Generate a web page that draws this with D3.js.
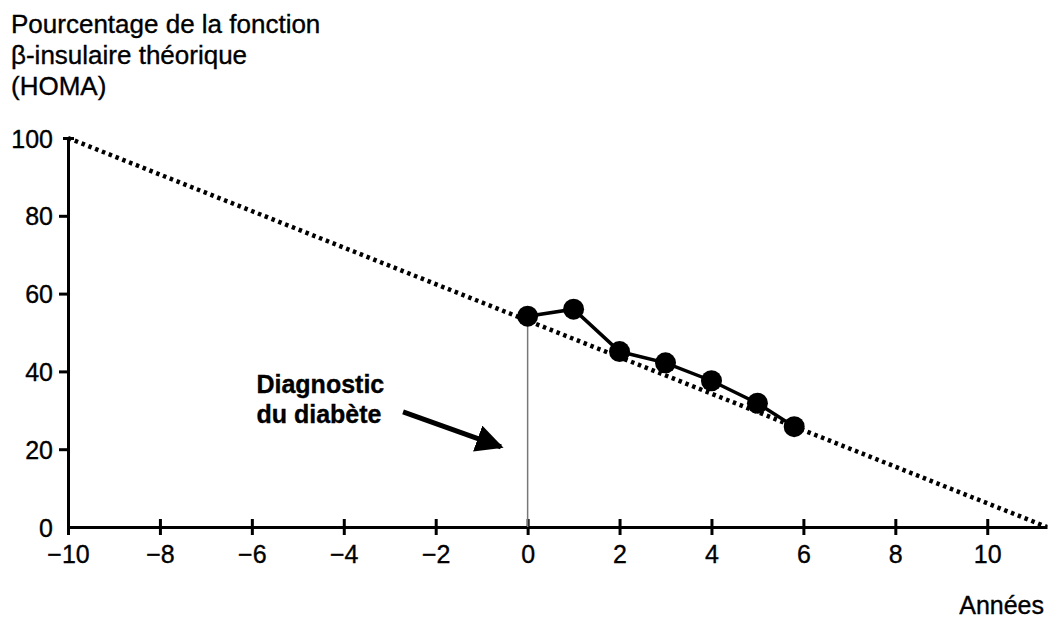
<!DOCTYPE html>
<html lang="fr">
<head>
<meta charset="UTF-8" />
<title>Fonction beta-insulaire</title>
<script src="https://d3js.org/d3.v7.min.js"></script>
<style>
    body { margin: 0; background: #fff; }
    svg { font-family: "Liberation Sans", Arial, sans-serif; }
    svg text { stroke: #000; stroke-width: 0.35; }
    .axis path, .axis line { stroke: #000; stroke-width: 3; fill: none; }
    .axis text { font-size: 25px; fill: #000; font-family: "Liberation Sans", Arial, sans-serif; }
</style>
</head>
<body>
<script>
// observed HOMA beta-cell function after diagnosis
var years = [0, 1, 2, 3, 4, 5, 5.8];
var betaFunction = [54.2, 56, 45.1, 42.2, 37.6, 31.8, 25.8];

// theoretical linear decline
var theoryYears = [-10, 11.3];
var theoryBeta = [100, 0];

var xTicks = [-10, -8, -6, -4, -2, 0, 2, 4, 6, 8, 10];
var yTicks = [0, 20, 40, 60, 80, 100];

var titleLines = ["Pourcentage de la fonction", "\u03b2-insulaire théorique", "(HOMA)"];
var noteLines = ["Diagnostic", "du diabète"];

var w = 1049, h = 618;

var svg = d3.select("body").append("svg")
    .attr("width", w)
    .attr("height", h);

var x = d3.scaleLinear().domain([-10, 11.3]).range([68, 1047]);
var y = d3.scaleLinear().domain([0, 100]).range([527, 138]);

// x axis (ticks cross the line)
var xAxis = svg.append("g")
    .attr("class", "axis")
    .attr("transform", "translate(0," + y(0) + ")")
    .call(d3.axisBottom(x).tickValues(xTicks).tickSizeInner(8).tickSizeOuter(0).tickPadding(10));
xAxis.selectAll(".tick line").attr("y1", -8);

// y axis
var yAxis = svg.append("g")
    .attr("class", "axis")
    .attr("transform", "translate(" + x(-10) + ",0)")
    .call(d3.axisLeft(y).tickValues(yTicks).tickSizeInner(9).tickSizeOuter(0).tickPadding(6));
yAxis.selectAll(".tick line")
    .filter(function (d) { return d === 100; })
    .attr("x1", -5).attr("x2", 6);
yAxis.selectAll(".tick line")
    .filter(function (d) { return d === 0; })
    .remove();
yAxis.selectAll(".tick text").attr("dy", "0.36em");

// dotted theoretical line
var theory = theoryYears.map(function (d, i) { return [d, theoryBeta[i]]; });
svg.append("path")
    .datum(theory)
    .attr("fill", "none")
    .attr("stroke", "#000")
    .attr("stroke-width", 4.5)
    .attr("stroke-dasharray", "3.5,3.8")
    .attr("d", d3.line().x(function (d) { return x(d[0]); }).y(function (d) { return y(d[1]); }));

// thin vertical line at diagnosis
svg.append("line")
    .attr("x1", x(years[0])).attr("x2", x(years[0]))
    .attr("y1", y(betaFunction[0])).attr("y2", y(0))
    .attr("stroke", "#777")
    .attr("stroke-width", 1.5);

// observed data
var obs = years.map(function (d, i) { return [d, betaFunction[i]]; });
svg.append("path")
    .datum(obs)
    .attr("fill", "none")
    .attr("stroke", "#000")
    .attr("stroke-width", 3.5)
    .attr("d", d3.line().x(function (d) { return x(d[0]); }).y(function (d) { return y(d[1]); }));

svg.selectAll(".dot")
    .data(obs)
    .enter().append("circle")
    .attr("class", "dot")
    .attr("cx", function (d) { return x(d[0]); })
    .attr("cy", function (d) { return y(d[1]); })
    .attr("r", 10.5)
    .attr("fill", "#000");

// y title
svg.append("text")
    .attr("x", 11)
    .attr("y", 33)
    .attr("font-size", 26)
    .selectAll("tspan")
    .data(titleLines)
    .enter().append("tspan")
    .attr("x", 11)
    .attr("dy", function (d, i) { return i === 0 ? 0 : 31; })
    .text(function (d) { return d; });

// x title
svg.append("text")
    .attr("x", 1044)
    .attr("y", 614)
    .attr("text-anchor", "end")
    .attr("font-size", 25)
    .text("Années");

// annotation
svg.append("text")
    .attr("x", x(-5.9))
    .attr("y", y(34.4))
    .attr("font-size", 25)
    .attr("font-weight", "bold")
    .selectAll("tspan")
    .data(noteLines)
    .enter().append("tspan")
    .attr("x", x(-5.9))
    .attr("dy", function (d, i) { return i === 0 ? 0 : 30; })
    .text(function (d) { return d; });

svg.append("defs").append("marker")
    .attr("id", "head")
    .attr("viewBox", "0 0 10 10")
    .attr("refX", 9).attr("refY", 5)
    .attr("markerWidth", 5.5).attr("markerHeight", 5.5)
    .attr("markerUnits", "strokeWidth")
    .attr("orient", "auto")
    .append("path")
    .attr("d", "M0,0 L10,5 L0,10 z")
    .attr("fill", "#000");

svg.append("line")
    .attr("x1", x(-2.71)).attr("y1", y(29.6))
    .attr("x2", x(-0.58)).attr("y2", y(20.6))
    .attr("stroke", "#000")
    .attr("stroke-width", 5)
    .attr("marker-end", "url(#head)");
</script>
</body>
</html>
